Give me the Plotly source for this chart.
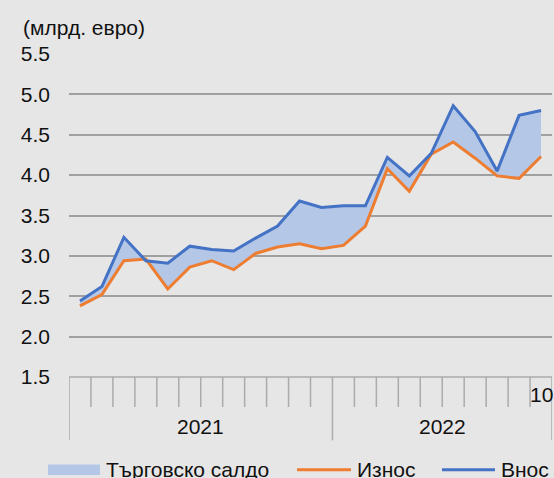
import plotly.graph_objects as go

# ---- data ----
year_labels = ["2021", "2022"]
months_per_year = [12, 10]
month_labels = [""] * 21 + ["10"]
exports = [2.38, 2.52, 2.94, 2.96, 2.59, 2.86, 2.94, 2.83, 3.03, 3.11, 3.15,
           3.09, 3.13, 3.37, 4.08, 3.80, 4.26, 4.41, 4.21, 3.99, 3.96, 4.23]
imports = [2.44, 2.62, 3.23, 2.94, 2.91, 3.12, 3.08, 3.06, 3.22, 3.37, 3.68,
           3.60, 3.62, 3.62, 4.22, 3.99, 4.27, 4.86, 4.54, 4.05, 4.74, 4.80]
series_names = ["Търговско салдо", "Износ", "Внос"]
y_unit = "(млрд. евро)"

# ---- styling ----
W, H = 554, 478
L, R = 69, 552          # plot area pixel left/right
T, B = 54, 376.7        # plot area pixel top/bottom
BG = "#E7E6E6"
BLUE = "#4472C4"
ORANGE = "#ED7D31"
FILL = "#B4C7E7"
GRID = "#A0A0A0"
TICK = "#ABABAB"
FONT = "Liberation Sans, Arial, sans-serif"
FS = 21
TXT = "#111111"

def px_x(px):
    return (px - L) / (R - L)

def px_y(py):
    return (B - py) / (B - T)

x = list(range(len(exports)))
n = len(x)

fig = go.Figure()
fig.add_trace(go.Scatter(x=x, y=exports, mode="lines", line=dict(width=0, color=FILL),
                         showlegend=False, hoverinfo="skip"))
fig.add_trace(go.Scatter(x=x, y=imports, mode="lines", line=dict(width=0, color=FILL),
                         fill="tonexty", fillcolor=FILL, showlegend=False, hoverinfo="skip"))
fig.add_trace(go.Scatter(x=x, y=exports, mode="lines", name=series_names[1],
                         line=dict(color=ORANGE, width=3), showlegend=False))
fig.add_trace(go.Scatter(x=x, y=imports, mode="lines", name=series_names[2],
                         line=dict(color=BLUE, width=3), showlegend=False))

shapes = []
annotations = []

# category axis line
shapes.append(dict(type="line", xref="x", yref="paper", x0=-0.5, x1=n - 0.5, y0=0, y1=0,
                   line=dict(color=TICK, width=1.5)))
# category ticks
boundaries = [0]
acc = 0
for m in months_per_year:
    acc += m
    boundaries.append(acc)
for i in range(n + 1):
    long = i in boundaries
    shapes.append(dict(type="line", xref="x", yref="paper", x0=i - 0.5, x1=i - 0.5,
                       y0=0, y1=px_y(440 if long else 406.7),
                       line=dict(color=TICK, width=1.5)))
# year labels
start = 0
for lab, m in zip(year_labels, months_per_year):
    annotations.append(dict(x=start + (m - 1) / 2, xref="x", y=px_y(426.5), yref="paper",
                            text=lab, showarrow=False, xanchor="center", yanchor="middle",
                            font=dict(family=FONT, size=FS, color=TXT)))
    start += m
# month labels
for i, lab in enumerate(month_labels):
    if lab:
        annotations.append(dict(x=i, xref="x", y=px_y(394.5), yref="paper", text=lab,
                                showarrow=False, xanchor="center", yanchor="middle",
                                font=dict(family=FONT, size=FS, color=TXT)))
# unit label
annotations.append(dict(x=px_x(21), xref="paper", y=px_y(27.5), yref="paper", text=y_unit,
                        showarrow=False, xanchor="left", yanchor="middle",
                        font=dict(family=FONT, size=FS, color=TXT)))

# manual legend
leg_y = 469
shapes.append(dict(type="rect", xref="paper", yref="paper", x0=px_x(48), x1=px_x(100),
                   y0=px_y(474.7), y1=px_y(464), fillcolor=FILL, line=dict(width=0)))
annotations.append(dict(x=px_x(104), xref="paper", y=px_y(leg_y), yref="paper",
                        text=series_names[0], showarrow=False, xanchor="left", yanchor="middle",
                        font=dict(family=FONT, size=FS, color=TXT)))
shapes.append(dict(type="line", xref="paper", yref="paper", x0=px_x(297), x1=px_x(351),
                   y0=px_y(469.3), y1=px_y(469.3), line=dict(color=ORANGE, width=3)))
annotations.append(dict(x=px_x(355), xref="paper", y=px_y(leg_y), yref="paper",
                        text=series_names[1], showarrow=False, xanchor="left", yanchor="middle",
                        font=dict(family=FONT, size=FS, color=TXT)))
shapes.append(dict(type="line", xref="paper", yref="paper", x0=px_x(442), x1=px_x(495),
                   y0=px_y(469.3), y1=px_y(469.3), line=dict(color=BLUE, width=3)))
annotations.append(dict(x=px_x(499), xref="paper", y=px_y(leg_y), yref="paper",
                        text=series_names[2], showarrow=False, xanchor="left", yanchor="middle",
                        font=dict(family=FONT, size=FS, color=TXT)))

fig.update_layout(
    width=W, height=H,
    margin=dict(l=L, r=W - R, t=T, b=H - B, pad=0),
    paper_bgcolor=BG, plot_bgcolor=BG,
    showlegend=False,
    font=dict(family=FONT, size=FS, color=TXT),
    xaxis=dict(range=[-0.5, n - 0.5], showgrid=False, zeroline=False, showline=False,
               showticklabels=False, ticks="", fixedrange=True),
    yaxis=dict(range=[1.5, 5.5], dtick=0.5, tick0=1.5, tickformat=".1f",
               showgrid=True, gridcolor=GRID, gridwidth=1.5, zeroline=False, showline=False,
               ticks="", ticklabelstandoff=18,
               tickfont=dict(family=FONT, size=FS, color=TXT), fixedrange=True),
    shapes=shapes,
    annotations=annotations,
)

fig.write_html(
    "out.html",
    config={"displayModeBar": False},
    post_script="document.body.style.margin='0';document.body.style.overflow='hidden';"
                "document.body.style.background='" + BG + "';",
)
